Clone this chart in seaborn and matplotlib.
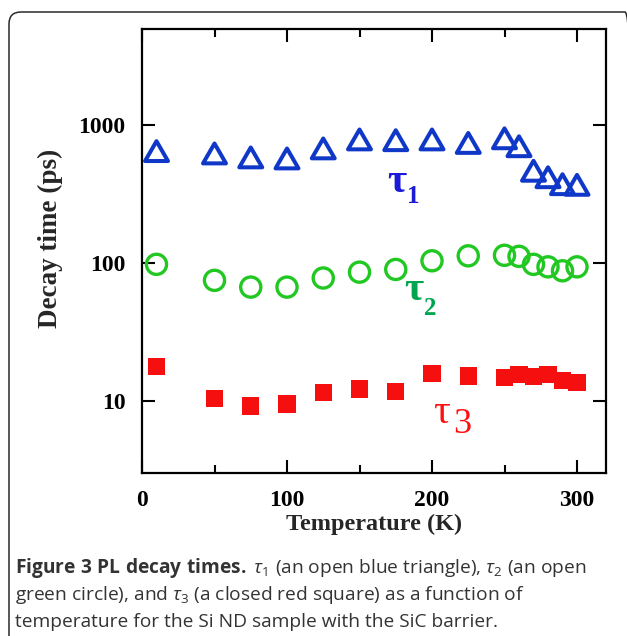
import matplotlib
matplotlib.use("Agg")
import matplotlib.pyplot as plt
from matplotlib.patches import FancyBboxPatch
from matplotlib.path import Path
from matplotlib.ticker import FixedLocator, NullLocator
from matplotlib.transforms import IdentityTransform
import pandas as pd
import seaborn as sns


temperature = [10, 50, 75, 100, 125, 150, 175, 200, 225, 250, 260, 270, 280, 290, 300]
tau1 = [650, 625, 585, 575, 680, 790, 780, 790, 745, 805, 705, 468, 420, 374, 370]
tau2 = [98, 75, 67, 67, 78, 86, 90, 104, 113, 114, 112, 98, 94, 88, 94]
tau3 = [17.7, 10.4, 9.2, 9.5, 11.5, 12.2, 11.7, 15.9, 15.2, 14.8, 15.5, 15.0, 15.5, 14.0, 13.6]

x_ticks = [0, 100, 200, 300]
x_minor = [50, 150, 250]
y_ticks = [10, 100, 1000]
y_tick_labels = ["10", "100", "1000"]

caption_lines = [
    r"$\mathbf{Figure\ 3\ PL\ decay\ times.}$ $\mathit{\tau}_\mathrm{1}$ (an open blue triangle), "
    r"$\mathit{\tau}_\mathrm{2}$ (an open",
    r"green circle), and $\mathit{\tau}_\mathrm{3}$ (a closed red square) as a function of",
    "temperature for the Si ND sample with the SiC barrier.",
]

BLUE = "#1038c8"
GREEN = "#22c822"
RED = "#f50f0f"
SERIF = ["Liberation Serif", "DejaVu Serif"]
SANS = ["Open Sans", "DejaVu Sans"]

# equilateral open triangle, centred on its bounding box
TRIANGLE = Path([(0, 0.433), (-0.5, -0.433), (0.5, -0.433), (0, 0.433)], closed=True)


def main():
    sns.set_theme(style="ticks")
    plt.rcParams["font.family"] = SERIF
    plt.rcParams["font.weight"] = "normal"
    plt.rcParams["mathtext.fontset"] = "custom"
    plt.rcParams["mathtext.rm"] = "Open Sans"
    plt.rcParams["mathtext.it"] = "Open Sans:italic"
    plt.rcParams["mathtext.bf"] = "Open Sans:bold"

    df = pd.DataFrame({"T": temperature, "tau1": tau1, "tau2": tau2, "tau3": tau3})

    fig = plt.figure(figsize=(6.27, 6.36), dpi=100)
    ax = fig.add_axes([142 / 627, 1 - 473 / 636, 464 / 627, 444 / 636])

    sns.scatterplot(data=df, x="T", y="tau1", marker=TRIANGLE, s=16.5 ** 2,
                    color=BLUE, facecolor="none", edgecolor=BLUE, linewidth=2.9,
                    ax=ax, zorder=3)
    sns.scatterplot(data=df, x="T", y="tau2", marker="o", s=14.5 ** 2,
                    color=GREEN, facecolor="none", edgecolor=GREEN, linewidth=2.4,
                    ax=ax, zorder=3)
    sns.scatterplot(data=df, x="T", y="tau3", marker="s", s=12.5 ** 2,
                    color=RED, edgecolor="none", linewidth=0, ax=ax, zorder=3)

    ax.set_yscale("log")
    ax.set_xlim(0, 320)
    ax.set_ylim(3, 5000)
    ax.set_xticks(x_ticks)
    ax.xaxis.set_minor_locator(FixedLocator(x_minor))
    ax.set_yticks(y_ticks, labels=y_tick_labels)
    ax.yaxis.set_minor_locator(NullLocator())

    for side in ["top", "right", "bottom", "left"]:
        ax.spines[side].set_visible(True)
        ax.spines[side].set_linewidth(1.6)
        ax.spines[side].set_color("black")
    ax.tick_params(which="both", direction="in", top=True, right=True,
                   colors="black", labelsize=17, pad=12)
    ax.tick_params(which="major", length=9.5, width=1.5)
    ax.tick_params(which="minor", length=6, width=1.5)
    for lbl in ax.get_xticklabels() + ax.get_yticklabels():
        lbl.set_fontweight("bold")

    ax.set_xlabel("Temperature (K)", fontsize=17.5, fontweight="bold")
    ax.set_ylabel("Decay time (ps)", fontsize=19.5, fontweight="bold")
    ax.xaxis.set_label_coords(0.501, -0.092)
    ax.yaxis.set_label_coords(-0.17, 0.529)

    # series labels inside the plot
    ax.text(169, 330, "τ", fontsize=30, color="#1a1ad8", fontweight="bold", va="baseline")
    ax.text(183, 274, "1", fontsize=18, color="#1a1ad8", fontweight="bold", va="baseline")
    ax.text(181, 54.3, "τ", fontsize=30, color="#00a550", fontweight="bold", va="baseline")
    ax.text(194.5, 42.2, "2", fontsize=18, color="#00a550", fontweight="bold", va="baseline")
    ax.text(200.7, 6.9, "τ", fontsize=30, color="#ff1010", fontweight="normal", va="baseline")
    ax.text(214.5, 5.83, "3", fontsize=26, color="#ff1010", fontweight="normal", va="baseline")

    # caption
    for i, line in enumerate(caption_lines):
        fig.text(15 / 627, 1 - (573 + 27 * i) / 636, line, ha="left", va="baseline",
                 fontsize=13.8, family=SANS, fontweight="normal", color="#333333")

    frame = FancyBboxPatch((9, -30), 628, 636 - 12 + 30,
                           boxstyle="round,pad=0,rounding_size=12",
                           transform=IdentityTransform(), facecolor="none",
                           edgecolor="#2a2a2a", linewidth=1.1)
    fig.add_artist(frame)

    fig.savefig("out.png", dpi=100)
    plt.close(fig)


if __name__ == "__main__":
    main()
